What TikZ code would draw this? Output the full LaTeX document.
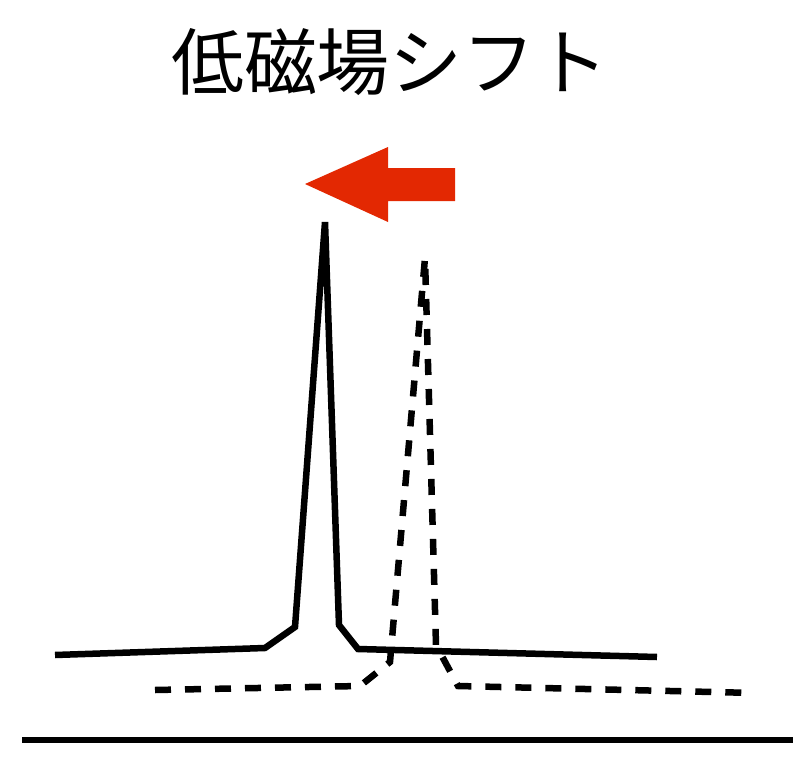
\documentclass[tikz,border=0pt]{standalone}
\usepackage{fontspec}
\newfontfamily\cjk{Noto Sans CJK JP}
\definecolor{arrowred}{RGB}{227,40,2}
\begin{document}
\begin{tikzpicture}[x=1pt,y=-1pt,
  curve/.style={line width=6.5pt,line join=miter,black},
  dashcurve/.style={curve,dash pattern=on 16pt off 14pt},
  baseline/.style={line width=6.5pt,black}]
\useasboundingbox (0,0) rectangle (807,758);
\node[font=\cjk\fontsize{73}{73}\selectfont,anchor=center] (title) at (390,62) {低磁場シフト};
% shift arrow
\fill[arrowred] (305,184) -- (388,147) -- (388,168) -- (455,168) -- (455,201) -- (388,201) -- (388,222) -- cycle;
% solid spectrum
\draw[curve] (55,655) -- (265,648) -- (295,627) -- (325,222) -- (339,625) -- (358,649) -- (657,657);
% dashed spectrum
\draw[dashcurve] (155,690) -- (360,686) -- (390,662) -- (425,258) -- (436,645) -- (458,686) -- (755,693);
% axis
\draw[baseline] (22,740) -- (793,740);
\end{tikzpicture}
\end{document}
